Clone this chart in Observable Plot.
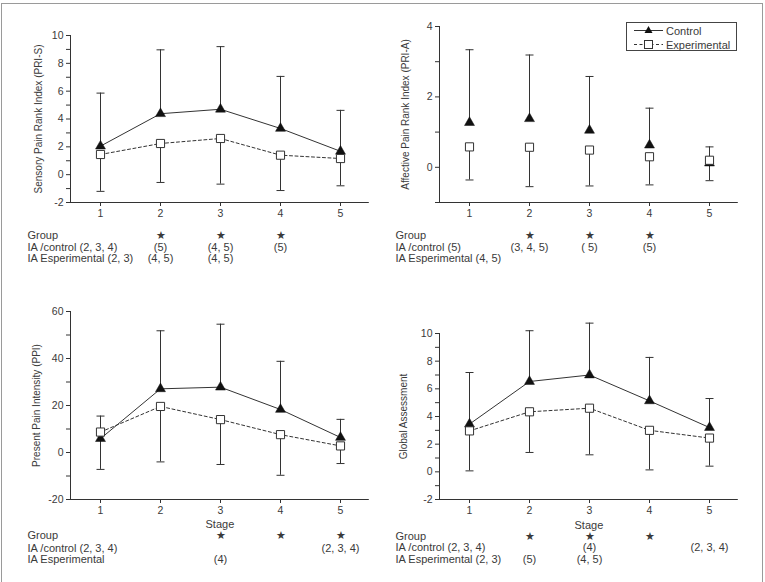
<!DOCTYPE html>
<html><head><meta charset="utf-8">
<script src="https://cdn.jsdelivr.net/npm/d3@7"></script>
<script src="https://cdn.jsdelivr.net/npm/@observablehq/plot@0.6"></script>
<style>
body{margin:0;background:#fff;}
#fig{position:relative;width:765px;height:582px;overflow:hidden;font-family:"Liberation Sans",Arial,sans-serif;color:#333;}
#frame{position:absolute;left:1px;top:3px;width:762px;height:640px;border:1.5px solid #9a9a9a;box-sizing:border-box;}
.panel{position:absolute;}
#legend{position:absolute;left:626px;top:22px;width:111px;height:29px;border:1px solid #444;box-sizing:border-box;background:#fff;}
</style></head><body>
<div id="fig"><div id="frame"></div></div>
<script>
const stages = [1, 2, 3, 4, 5];
const seriesNames = ["Control", "Experimental"];

// Sensory Pain Rank Index (PRI-S)
const sensoryControl = [2.05, 4.38, 4.7, 3.32, 1.68];
const sensoryControlUpper = [5.86, 8.97, 9.2, 7.06, 4.62];
const sensoryExp = [1.45, 2.24, 2.6, 1.4, 1.16];
const sensoryExpLower = [-1.2, -0.56, -0.68, -1.14, -0.8];
const sensoryRowLabels = ["Group", "IA /control (2, 3, 4)", "IA Esperimental (2, 3)"];
const sensoryRow1 = [{stage: 2, text: "★"}, {stage: 3, text: "★"}, {stage: 4, text: "★"}];
const sensoryRow2 = [{stage: 2, text: "(5)"}, {stage: 3, text: "(4, 5)"}, {stage: 4, text: "(5)"}];
const sensoryRow3 = [{stage: 2, text: "(4, 5)"}, {stage: 3, text: "(4, 5)"}];

// Affective Pain Rank Index (PRI-A)
const affectiveControl = [1.27, 1.38, 1.05, 0.63, 0.12];
const affectiveControlUpper = [3.34, 3.19, 2.58, 1.68, 0.58];
const affectiveExp = [0.58, 0.57, 0.49, 0.3, 0.2];
const affectiveExpLower = [-0.36, -0.55, -0.53, -0.5, -0.38];
const affectiveRowLabels = ["Group", "IA /control (5)", "IA Esperimental (4, 5)"];
const affectiveRow1 = [{stage: 2, text: "★"}, {stage: 3, text: "★"}, {stage: 4, text: "★"}];
const affectiveRow2 = [{stage: 2, text: "(3, 4, 5)"}, {stage: 3, text: "( 5)"}, {stage: 4, text: "(5)"}];
const affectiveRow3 = [];

// Present Pain Intensity (PPI)
const ppiControl = [5.9, 27.1, 27.8, 18.3, 6.4];
const ppiControlUpper = [15.5, 51.8, 54.6, 38.8, 14.1];
const ppiExp = [8.7, 19.6, 14, 7.6, 2.8];
const ppiExpLower = [-7.2, -4.0, -5.1, -9.7, -4.7];
const ppiRowLabels = ["Group", "IA /control (2, 3, 4)", "IA Esperimental"];
const ppiRow1 = [{stage: 3, text: "★"}, {stage: 4, text: "★"}, {stage: 5, text: "★"}];
const ppiRow2 = [{stage: 5, text: "(2, 3, 4)"}];
const ppiRow3 = [{stage: 3, text: "(4)"}];

// Global Assessment
const globalControl = [3.45, 6.53, 7.0, 5.13, 3.2];
const globalControlUpper = [7.18, 10.2, 10.75, 8.27, 5.3];
const globalExp = [2.96, 4.34, 4.6, 3.0, 2.44];
const globalExpLower = [0.07, 1.4, 1.23, 0.14, 0.41];
const globalRowLabels = ["Group", "IA /control (2, 3, 4)", "IA Esperimental (2, 3)"];
const globalRow1 = [{stage: 2, text: "★"}, {stage: 3, text: "★"}, {stage: 4, text: "★"}];
const globalRow2 = [{stage: 3, text: "(4)"}, {stage: 5, text: "(2, 3, 4)"}];
const globalRow3 = [{stage: 2, text: "(5)"}, {stage: 3, text: "(4, 5)"}];

const ink = "#333";
const textInk = "#3a3a3a";
const capSymbol = {draw(ctx, size) { const w = Math.sqrt(size / Math.PI); ctx.moveTo(-w, 0); ctx.lineTo(w, 0); }};

function makePanel(cfg) {
  const ctrl = stages.map((s, i) => ({stage: s, value: cfg.control[i], bound: cfg.controlUpper[i]}));
  const exp = stages.map((s, i) => ({stage: s, value: cfg.exp[i], bound: cfg.expLower[i]}));
  const xDomain = [0.5, 5.48];
  const marks = [
    Plot.ruleX([xDomain[0]], {y1: cfg.yDomain[0], y2: cfg.yDomain[1], stroke: ink, strokeWidth: 1}),
    Plot.ruleY([cfg.yDomain[0]], {stroke: ink, strokeWidth: 1}),
    Plot.axisY({ticks: cfg.yTicks, tickSize: 4, tickPadding: 3, tickFormat: d => cfg.yLabels.includes(d) ? String(d) : "", label: null, stroke: ink, fill: textInk, fontSize: 10.5}),
    Plot.axisX({ticks: stages, tickSize: 4, tickPadding: 3, tickFormat: d => String(d), label: null, stroke: ink, fill: textInk, fontSize: 10.5}),
    Plot.text([cfg.ylabel], {frameAnchor: "left", rotate: -90, textAnchor: "middle", dx: cfg.ylabelDx, fill: textInk, fontSize: 10})
  ];
  if (cfg.lines) {
    marks.push(Plot.line(ctrl, {x: "stage", y: "value", stroke: ink, strokeWidth: 1}));
    marks.push(Plot.line(exp, {x: "stage", y: "value", stroke: ink, strokeWidth: 1, strokeDasharray: "3,2.5"}));
  }
  marks.push(
    Plot.ruleX(ctrl, {x: "stage", y1: "value", y2: "bound", stroke: ink, strokeWidth: 1}),
    Plot.ruleX(exp, {x: "stage", y1: "value", y2: "bound", stroke: ink, strokeWidth: 1}),
    Plot.dot(ctrl, {x: "stage", y: "bound", symbol: capSymbol, r: 4, stroke: ink, fill: "none", strokeWidth: 1}),
    Plot.dot(exp, {x: "stage", y: "bound", symbol: capSymbol, r: 4, stroke: ink, fill: "none", strokeWidth: 1}),
    Plot.dot(ctrl, {x: "stage", y: "value", symbol: "triangle", r: 3.7, fill: "#111", stroke: "#111", strokeWidth: 0.5}),
    Plot.dot(exp, {x: "stage", y: "value", symbol: "square", r: 4.6, fill: "#fff", stroke: ink, strokeWidth: 1})
  );
  const rows = [cfg.row1, cfg.row2, cfg.row3];
  cfg.rowLabels.forEach((lab, i) => {
    marks.push(Plot.text([lab], {frameAnchor: "bottom-left", dx: cfg.rowDx, dy: cfg.rowDy[i], textAnchor: "start", fill: textInk, fontSize: 11}));
    marks.push(Plot.text(rows[i], {x: "stage", text: "text", frameAnchor: "bottom", dy: cfg.rowDy[i], fill: textInk, fontSize: i === 0 ? 11 : 11}));
  });
  if (cfg.stageDy) marks.push(Plot.text(["Stage"], {frameAnchor: "bottom", dy: cfg.stageDy, fill: textInk, fontSize: 11}));
  const p = Plot.plot({
    width: 380, height: cfg.height,
    marginLeft: cfg.marginLeft, marginRight: 380 - cfg.marginLeft - 298.8,
    marginTop: cfg.marginTop, marginBottom: cfg.marginBottom,
    x: {domain: xDomain, axis: null},
    y: {domain: cfg.yDomain, axis: null},
    style: {fontFamily: '"Liberation Sans", Arial, sans-serif', fontSize: "10px", color: ink, background: "transparent", overflow: "visible"},
    marks
  });
  p.classList.add("panel");
  p.style.left = cfg.left + "px";
  p.style.top = cfg.top + "px";
  document.getElementById("fig").appendChild(p);
}

makePanel({left: 0, top: 0, height: 277, marginLeft: 70, marginTop: 35, marginBottom: 75,
  yDomain: [-2, 10], yTicks: d3.range(-2, 11, 1), yLabels: [-2, 0, 2, 4, 6, 8, 10],
  ylabel: "Sensory Pain Rank Index (PRI-S)", ylabelDx: -32,
  control: sensoryControl, controlUpper: sensoryControlUpper, exp: sensoryExp, expLower: sensoryExpLower, lines: true,
  rowLabels: sensoryRowLabels, row1: sensoryRow1, row2: sensoryRow2, row3: sensoryRow3, rowDx: -43, rowDy: [36, 48, 59]});

makePanel({left: 380, top: 0, height: 277, marginLeft: 59, marginTop: 26, marginBottom: 75,
  yDomain: [-1, 4], yTicks: d3.range(-1, 5, 1), yLabels: [0, 2, 4],
  ylabel: "Affective Pain Rank Index (PRI-A)", ylabelDx: -34,
  control: affectiveControl, controlUpper: affectiveControlUpper, exp: affectiveExp, expLower: affectiveExpLower, lines: false,
  rowLabels: affectiveRowLabels, row1: affectiveRow1, row2: affectiveRow2, row3: affectiveRow3, rowDx: -44, rowDy: [36, 48, 59]});

makePanel({left: 0, top: 290, height: 289, marginLeft: 70, marginTop: 21, marginBottom: 80,
  yDomain: [-20, 60], yTicks: d3.range(-20, 61, 10), yLabels: [-20, 0, 20, 40, 60],
  ylabel: "Present Pain Intensity (PPI)", ylabelDx: -34,
  control: ppiControl, controlUpper: ppiControlUpper, exp: ppiExp, expLower: ppiExpLower, lines: true,
  rowLabels: ppiRowLabels, row1: ppiRow1, row2: ppiRow2, row3: ppiRow3, rowDx: -43, rowDy: [39, 52, 63], stageDy: 28});

makePanel({left: 380, top: 290, height: 289, marginLeft: 59, marginTop: 43, marginBottom: 80,
  yDomain: [-2, 10], yTicks: d3.range(-2, 11, 1), yLabels: [-2, 0, 2, 4, 6, 8, 10],
  ylabel: "Global Assessment", ylabelDx: -36,
  control: globalControl, controlUpper: globalControlUpper, exp: globalExp, expLower: globalExpLower, lines: true,
  rowLabels: globalRowLabels, row1: globalRow1, row2: globalRow2, row3: globalRow3, rowDx: -44, rowDy: [40, 51, 63], stageDy: 29});

// Legend
const lg = document.createElement("div");
lg.id = "legend";
lg.innerHTML = `<svg width="111" height="29" style="position:absolute;left:0;top:0;font-family:'Liberation Sans',Arial,sans-serif;font-size:11px;">
  <line x1="7" x2="36" y1="7.5" y2="7.5" stroke="${ink}"/>
  <path d="M21.5,3 L25.5,10 L17.5,10 Z" fill="#111"/>
  <text x="39" y="11.5" fill="${textInk}">${seriesNames[0]}</text>
  <line x1="7" x2="36" y1="21.5" y2="21.5" stroke="${ink}" stroke-dasharray="3,2.5"/>
  <rect x="17.5" y="17.5" width="8" height="8" fill="#fff" stroke="${ink}"/>
  <text x="39" y="25.5" fill="${textInk}">${seriesNames[1]}</text>
</svg>`;
document.getElementById("fig").appendChild(lg);
</script>
</body></html>
